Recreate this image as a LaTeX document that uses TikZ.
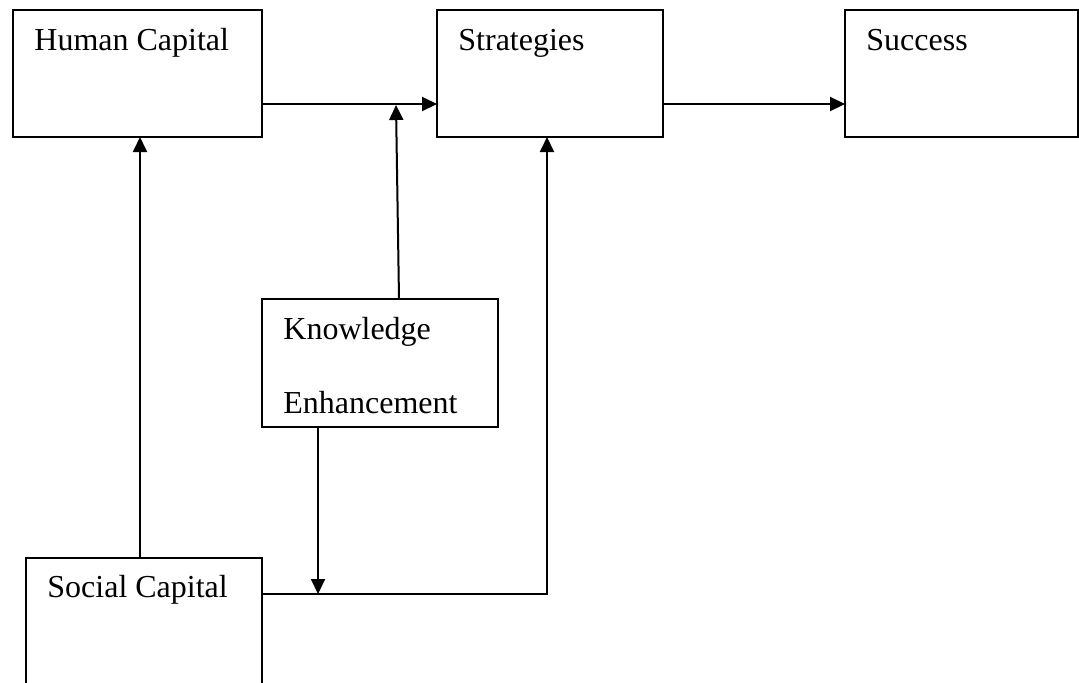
\documentclass[tikz,border=0pt]{standalone}
\usepackage{fontspec}
\setmainfont{Liberation Serif}
\usetikzlibrary{arrows.meta}
\begin{document}
\begin{tikzpicture}[x=0.5pt,y=-0.5pt,
  box/.style={draw=black,line width=1pt,anchor=north west,inner sep=0pt,outer sep=0pt},
  lbl/.style={anchor=base west,inner sep=0pt,font=\fontsize{16pt}{19pt}\selectfont},
  arr/.style={draw=black,line width=1pt,-{Triangle[length=7.5pt,width=7pt]}},
  ln/.style={draw=black,line width=1pt}]
\clip (0,0) rectangle (1079,682);
\fill[white] (0,0) rectangle (1079,682);
% boxes
\node[box,minimum width=124.5pt,minimum height=63.5pt] (hc) at (13,10) {};
\node[box,minimum width=113pt,minimum height=63.5pt] (str) at (437,10) {};
\node[box,minimum width=116.5pt,minimum height=63.5pt] (suc) at (845,10) {};
\node[box,minimum width=118pt,minimum height=64pt] (know) at (262,299) {};
\node[box,minimum width=118pt,minimum height=75pt] (soc) at (26,558) {};
% labels
\node[lbl] (hct) at (34,50) {Human Capital};
\node[lbl] (strt) at (458,50) {Strategies};
\node[lbl] (suct) at (866,50) {Success};
\node[lbl] (knowt1) at (283,339) {Knowledge};
\node[lbl] (knowt2) at (283,413) {Enhancement};
\node[lbl] (soct) at (47,597) {Social Capital};
% junction points
\coordinate (kj) at (396,105);
\coordinate (sj) at (318,594);
% connectors
\draw[arr] ([yshift=16.5pt]hc.south east) -- ([yshift=16.5pt]str.south west);
\draw[arr] ([yshift=16.5pt]str.south east) -- ([yshift=16.5pt]suc.south west);
\draw[arr] ([xshift=9.5pt]know.north) -- (kj);
\draw[arr] (soc.north -| 140,0) -- (hc.south -| 140,0);
\draw[ln,-{Triangle[length=7.5pt,width=7pt]}] ([yshift=-18pt]soc.north east) -| ([xshift=-1.5pt]str.south);
\draw[arr] ([xshift=-31pt]know.south) -- (sj);
\end{tikzpicture}
\end{document}
